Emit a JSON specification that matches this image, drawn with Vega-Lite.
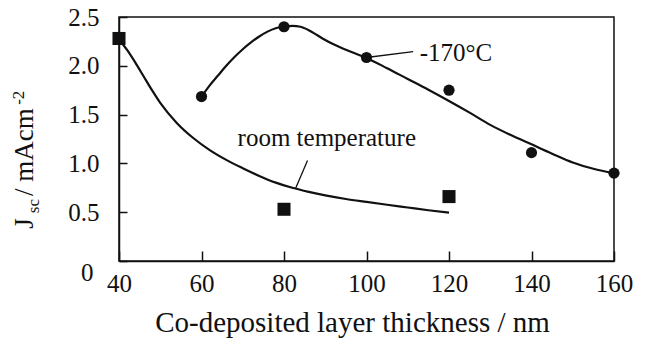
{
  "$schema": "https://vega.github.io/schema/vega-lite/v6.json",
  "width": 495,
  "height": 244,
  "autosize": "none",
  "padding": {"left": 119, "top": 17, "right": 40, "bottom": 80},
  "background": "white",
  "config": {
    "view": {"stroke": "#111", "strokeWidth": 1.5},
    "font": "Liberation Serif",
    "axis": {
      "domainColor": "#111", "domainWidth": 1.5,
      "tickColor": "#111", "tickWidth": 1.5,
      "labelColor": "#111", "labelFont": "Liberation Serif", "labelFontSize": 25,
      "titleColor": "#111", "titleFont": "Liberation Serif", "titleFontSize": 29, "titleFontWeight": "normal",
      "grid": false
    }
  },
  "datasets": {
    "points": [
      {"series": "room temperature", "thickness": 40, "jsc": 2.28},
      {"series": "room temperature", "thickness": 80, "jsc": 0.53},
      {"series": "room temperature", "thickness": 120, "jsc": 0.66},
      {"series": "-170°C", "thickness": 60, "jsc": 1.685},
      {"series": "-170°C", "thickness": 80, "jsc": 2.40},
      {"series": "-170°C", "thickness": 100, "jsc": 2.085},
      {"series": "-170°C", "thickness": 120, "jsc": 1.75},
      {"series": "-170°C", "thickness": 140, "jsc": 1.11},
      {"series": "-170°C", "thickness": 160, "jsc": 0.90}
    ],
    "fits": [
      {"series": "room temperature", "thickness": 40, "jsc": 2.27},
      {"series": "room temperature", "thickness": 42, "jsc": 2.16},
      {"series": "room temperature", "thickness": 44, "jsc": 2.03},
      {"series": "room temperature", "thickness": 46, "jsc": 1.89},
      {"series": "room temperature", "thickness": 48, "jsc": 1.75},
      {"series": "room temperature", "thickness": 50, "jsc": 1.62},
      {"series": "room temperature", "thickness": 54, "jsc": 1.415},
      {"series": "room temperature", "thickness": 58, "jsc": 1.26},
      {"series": "room temperature", "thickness": 62, "jsc": 1.136},
      {"series": "room temperature", "thickness": 66, "jsc": 1.036},
      {"series": "room temperature", "thickness": 70, "jsc": 0.951},
      {"series": "room temperature", "thickness": 74, "jsc": 0.872},
      {"series": "room temperature", "thickness": 78, "jsc": 0.803},
      {"series": "room temperature", "thickness": 82, "jsc": 0.75},
      {"series": "room temperature", "thickness": 86, "jsc": 0.708},
      {"series": "room temperature", "thickness": 90, "jsc": 0.672},
      {"series": "room temperature", "thickness": 95, "jsc": 0.635},
      {"series": "room temperature", "thickness": 100, "jsc": 0.605},
      {"series": "room temperature", "thickness": 105, "jsc": 0.576},
      {"series": "room temperature", "thickness": 110, "jsc": 0.548},
      {"series": "room temperature", "thickness": 115, "jsc": 0.52},
      {"series": "room temperature", "thickness": 120, "jsc": 0.495},
      {"series": "-170°C", "thickness": 60, "jsc": 1.685},
      {"series": "-170°C", "thickness": 62, "jsc": 1.80},
      {"series": "-170°C", "thickness": 64, "jsc": 1.90},
      {"series": "-170°C", "thickness": 66, "jsc": 2.00},
      {"series": "-170°C", "thickness": 68, "jsc": 2.09},
      {"series": "-170°C", "thickness": 70, "jsc": 2.17},
      {"series": "-170°C", "thickness": 72, "jsc": 2.24},
      {"series": "-170°C", "thickness": 74, "jsc": 2.30},
      {"series": "-170°C", "thickness": 76, "jsc": 2.35},
      {"series": "-170°C", "thickness": 78, "jsc": 2.385},
      {"series": "-170°C", "thickness": 80, "jsc": 2.40},
      {"series": "-170°C", "thickness": 82, "jsc": 2.41},
      {"series": "-170°C", "thickness": 84, "jsc": 2.40},
      {"series": "-170°C", "thickness": 86, "jsc": 2.365},
      {"series": "-170°C", "thickness": 88, "jsc": 2.315},
      {"series": "-170°C", "thickness": 90, "jsc": 2.265},
      {"series": "-170°C", "thickness": 92, "jsc": 2.22},
      {"series": "-170°C", "thickness": 95, "jsc": 2.165},
      {"series": "-170°C", "thickness": 100, "jsc": 2.08},
      {"series": "-170°C", "thickness": 105, "jsc": 1.975},
      {"series": "-170°C", "thickness": 110, "jsc": 1.865},
      {"series": "-170°C", "thickness": 115, "jsc": 1.755},
      {"series": "-170°C", "thickness": 120, "jsc": 1.64},
      {"series": "-170°C", "thickness": 125, "jsc": 1.52},
      {"series": "-170°C", "thickness": 130, "jsc": 1.395},
      {"series": "-170°C", "thickness": 135, "jsc": 1.29},
      {"series": "-170°C", "thickness": 140, "jsc": 1.195},
      {"series": "-170°C", "thickness": 145, "jsc": 1.10},
      {"series": "-170°C", "thickness": 150, "jsc": 1.01},
      {"series": "-170°C", "thickness": 155, "jsc": 0.945},
      {"series": "-170°C", "thickness": 160, "jsc": 0.90}
    ],
    "one": [{}]
  },
  "layer": [
    {
      "data": {"name": "fits"},
      "mark": {"type": "line", "interpolate": "monotone", "color": "#111", "strokeWidth": 2.2},
      "encoding": {
        "x": {
          "field": "thickness", "type": "quantitative",
          "scale": {"domain": [40, 160], "nice": false, "zero": false},
          "axis": {
            "title": "Co-deposited layer thickness / nm",
            "values": [40, 60, 80, 100, 120, 140, 160],
            "tickSize": -10, "labelPadding": 20, "labelFlush": false, "labelOverlap": false,
            "titlePadding": 12, "titleX": 233
          }
        },
        "y": {
          "field": "jsc", "type": "quantitative",
          "scale": {"domain": [0, 2.5], "nice": false, "zero": false},
          "axis": {
            "title": null,
            "values": [0, 0.5, 1, 1.5, 2, 2.5],
            "labelExpr": "datum.value == 0 ? '0' : format(datum.value, '.1f')",
            "tickSize": -8,
            "labelPadding": {"condition": {"test": "datum.value == 0", "value": 34}, "value": 28},
            "labelOffset": {"condition": {"test": "datum.value == 0", "value": 11}, "value": 0}
          }
        },
        "detail": {"field": "series"}
      }
    },
    {
      "data": {"name": "points"},
      "transform": [{"filter": "datum.series == 'room temperature'"}],
      "mark": {"type": "square", "filled": true, "color": "#111", "size": 170, "opacity": 1},
      "encoding": {
        "x": {"field": "thickness", "type": "quantitative"},
        "y": {"field": "jsc", "type": "quantitative"}
      }
    },
    {
      "data": {"name": "points"},
      "transform": [{"filter": "datum.series == '-170°C'"}],
      "mark": {"type": "circle", "color": "#111", "size": 125, "opacity": 1},
      "encoding": {
        "x": {"field": "thickness", "type": "quantitative"},
        "y": {"field": "jsc", "type": "quantitative"}
      }
    },
    {
      "data": {"name": "one"},
      "mark": {"type": "rule", "color": "#111", "strokeWidth": 1.3},
      "encoding": {
        "x": {"datum": 100}, "y": {"datum": 2.085},
        "x2": {"datum": 111.3}, "y2": {"datum": 2.145}
      }
    },
    {
      "data": {"name": "one"},
      "mark": {"type": "rule", "color": "#111", "strokeWidth": 1.3},
      "encoding": {
        "x": {"datum": 85.7}, "y": {"datum": 1.03},
        "x2": {"datum": 82.8}, "y2": {"datum": 0.742}
      }
    },
    {
      "data": {"name": "one"},
      "mark": {"type": "text", "font": "Liberation Serif", "fontSize": 25, "color": "#111", "align": "left", "baseline": "alphabetic"},
      "encoding": {"x": {"datum": 112.9}, "y": {"datum": 2.05}, "text": {"value": "-170°C"}}
    },
    {
      "data": {"name": "one"},
      "mark": {"type": "text", "font": "Liberation Serif", "fontSize": 25, "color": "#111", "align": "left", "baseline": "alphabetic"},
      "encoding": {"x": {"datum": 68.75}, "y": {"datum": 1.18}, "text": {"value": "room temperature"}}
    },
    {
      "data": {"name": "one"},
      "mark": {"type": "text", "font": "Liberation Serif", "fontSize": 27, "color": "#111", "align": "left", "baseline": "alphabetic", "angle": 270},
      "encoding": {"x": {"datum": 19.2}, "y": {"datum": 0.33}, "text": {"value": "J"}}
    },
    {
      "data": {"name": "one"},
      "mark": {"type": "text", "font": "Liberation Serif", "fontSize": 17, "color": "#111", "align": "left", "baseline": "alphabetic", "angle": 270},
      "encoding": {"x": {"datum": 20.7}, "y": {"datum": 0.49}, "text": {"value": "sc"}}
    },
    {
      "data": {"name": "one"},
      "mark": {"type": "text", "font": "Liberation Serif", "fontSize": 27, "color": "#111", "align": "left", "baseline": "alphabetic", "angle": 270},
      "encoding": {"x": {"datum": 19.2}, "y": {"datum": 0.665}, "text": {"value": "/ mAcm"}}
    },
    {
      "data": {"name": "one"},
      "mark": {"type": "text", "font": "Liberation Serif", "fontSize": 17, "color": "#111", "align": "left", "baseline": "alphabetic", "angle": 270},
      "encoding": {"x": {"datum": 17.0}, "y": {"datum": 1.6}, "text": {"value": "-2"}}
    }
  ]
}
